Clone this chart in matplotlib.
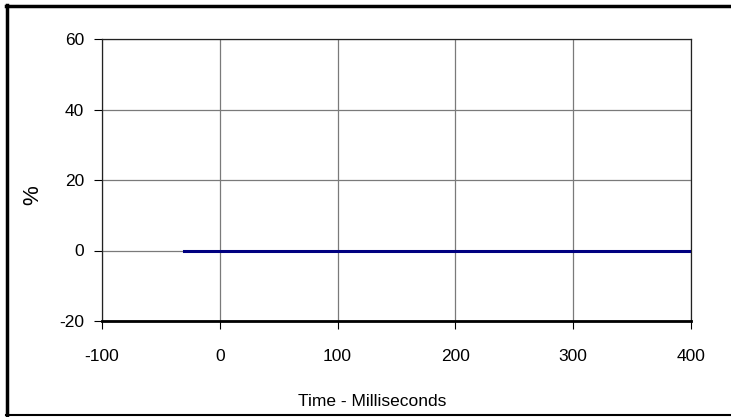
import numpy as np
import matplotlib.pyplot as plt
from matplotlib.lines import Line2D

plt.rcParams['font.family'] = ['Liberation Sans', 'DejaVu Sans']
plt.rcParams['axes.unicode_minus'] = False

# data
time_ms = [-30, 0, 50, 100, 150, 200, 250, 300, 350, 400]
pct = [0, 0, 0, 0, 0, 0, 0, 0, 0, 0]
x_ticks = [-100, 0, 100, 200, 300, 400]
y_ticks = [-20, 0, 20, 40, 60]

W, H = 731, 417
fig = plt.figure(figsize=(W / 100, H / 100), dpi=100)
ax = fig.add_axes([102 / W, 1 - 321 / H, (691 - 102) / W, (321 - 39) / H])

ax.set_xlim(-100, 400)
ax.set_ylim(-20, 60)
ax.set_xticks(x_ticks)
ax.set_yticks(y_ticks)
ax.grid(True, color='#7a7a7a', linewidth=0.9)
ax.set_axisbelow(True)

ax.plot(time_ms, pct, color='#000080', linewidth=2.2, zorder=3)

for s in ['left', 'right', 'top']:
    ax.spines[s].set_linewidth(0.9)
    ax.spines[s].set_color('#222222')
ax.spines['bottom'].set_linewidth(2)
ax.spines['bottom'].set_color('black')

ax.tick_params(direction='out', length=6, width=0.8, labelsize=12.5, pad=7)
ax.tick_params(axis='x', pad=14)

# axis titles placed in figure pixels
fig.text(372 / W, 1 - 402 / H, 'Time - Milliseconds', fontsize=12.5, ha='center', va='center')
fig.text(33 / W, 1 - 195 / H, '%', fontsize=16, rotation=90, ha='center', va='center')

# outer frame (left/top/bottom)
fig.add_artist(Line2D([7 / W, 7 / W], [1 - 5 / H, 1 - 415 / H], color='black', lw=2.5, transform=fig.transFigure))
fig.add_artist(Line2D([6 / W, 1], [1 - 5.5 / H, 1 - 5.5 / H], color='black', lw=2.5, transform=fig.transFigure))
fig.add_artist(Line2D([6 / W, 1], [1 - 414.5 / H, 1 - 414.5 / H], color='black', lw=1.5, transform=fig.transFigure))

fig.savefig('out.png', dpi=100)
